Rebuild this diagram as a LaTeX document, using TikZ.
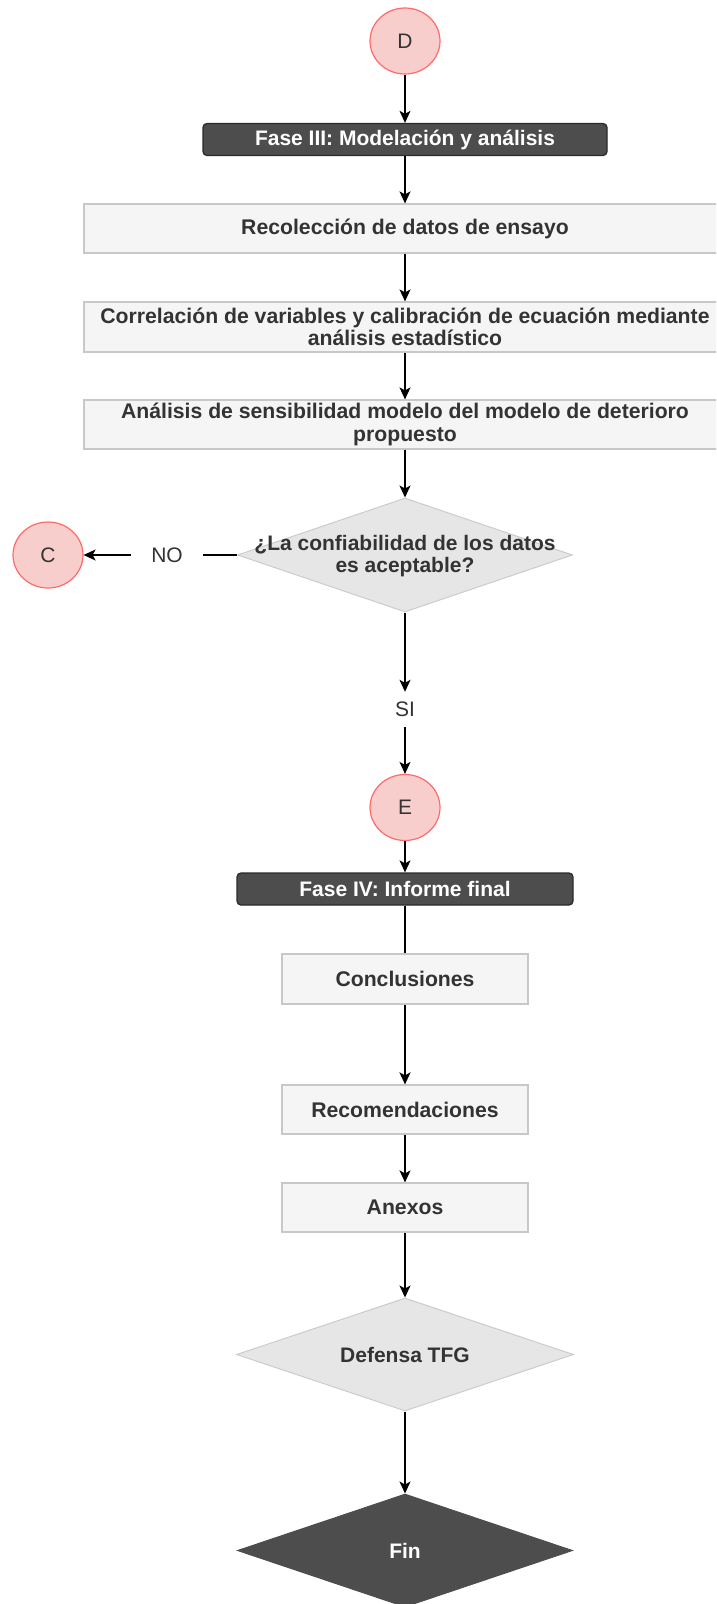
\documentclass[tikz,border=0pt]{standalone}
\usepackage{fontspec}
\setmainfont{Liberation Sans}
\usetikzlibrary{shapes.geometric,arrows.meta}
\definecolor{txt}{HTML}{333333}
\definecolor{boxfill}{HTML}{F5F5F5}
\definecolor{boxline}{HTML}{C8C8C8}
\definecolor{diafill}{HTML}{E6E6E6}
\definecolor{dialine}{HTML}{CCCCCC}
\definecolor{darkfill}{HTML}{4D4D4D}
\definecolor{darkline}{HTML}{2B2B2B}
\definecolor{connfill}{HTML}{F8CECC}
\definecolor{connline}{HTML}{FF6B6B}
\tikzset{
  box/.style={draw=boxline, fill=boxfill, line width=1.2pt, inner sep=0pt,
    minimum height=49pt, align=center, text=txt,
    font=\bfseries\fontsize{21.2}{22.5}\selectfont},
  phase/.style={draw=darkline, fill=darkfill, line width=1.3pt, rounded corners=4pt,
    inner sep=0pt, minimum height=32pt, text=white,
    font=\bfseries\fontsize{21}{22.5}\selectfont},
  conn/.style={ellipse, draw=connline, fill=connfill, line width=1.2pt,
    minimum width=70pt, minimum height=66pt, inner sep=0pt, text=txt,
    font=\fontsize{21}{24}\selectfont},
  dia/.style={diamond, draw=dialine, fill=diafill, line width=1pt,
    minimum width=335pt, minimum height=114pt, inner sep=0pt},
  diatext/.style={align=center, text=txt, inner sep=0pt,
    font=\bfseries\fontsize{21}{22.5}\selectfont},
  lbl/.style={text=txt, inner sep=0pt, font=\fontsize{21}{24}\selectfont},
  arr/.style={-{Stealth[length=12pt,width=11pt,inset=3pt]}, line width=1.3pt, draw=black},
  plain/.style={line width=1.3pt, draw=black}
}
\begin{document}
\begin{tikzpicture}[x=1pt,y=-1pt]
\useasboundingbox (0,0) rectangle (716,1604);
\clip (0,0) rectangle (716,1604);
% nodes
\node[conn] (D) at (405,41) {D};
\node[phase, minimum width=404pt] (f3) at (405,139.5) {Fase III: Modelación y análisis};
\node[box, minimum width=642pt] (rec) at (405,228.5) {Recolección de datos de ensayo};
\node[box, minimum width=642pt, minimum height=50pt] (cor) at (405,327) {Correlación de variables y calibración de ecuación mediante\\análisis estadístico};
\node[box, minimum width=642pt] (ana) at (405,424.5) {Análisis de sensibilidad modelo del modelo de deterioro\\propuesto};
\node[dia] (dec) at (405,555) {};
\node[diatext] (dect) at (405,556) {¿La confiabilidad de los datos\\es aceptable?};
\node[conn] (C) at (48,555) {C};
\node[lbl, minimum width=72pt] (no) at (167,555) {NO};
\node[lbl, minimum height=35pt] (si) at (405,709.5) {SI};
\node[conn] (E) at (405,807.5) {E};
\node[phase, minimum width=336pt] (f4) at (405,889) {Fase IV: Informe final};
\node[box, minimum width=246pt, minimum height=50pt] (concl) at (405,979) {Conclusiones};
\node[box, minimum width=246pt] (recom) at (405,1109.5) {Recomendaciones};
\node[box, minimum width=246pt] (anex) at (405,1207.5) {Anexos};
\node[dia, minimum width=337pt, minimum height=113pt] (def) at (405,1354.5) {};
\node[diatext] (deft) at (405,1354.5) {Defensa TFG};
\node[dia, draw=darkfill, fill=darkfill, minimum height=113pt] (fin) at (405,1550.5) {};
\node[diatext, text=white] (fint) at (405,1550.5) {Fin};
% connectors
\draw[arr] (D) -- (f3);
\draw[arr] (f3) -- (rec);
\draw[arr] (rec) -- (cor);
\draw[arr] (cor) -- (ana);
\draw[arr] (ana) -- (dec);
\draw[plain] (dec.west) -- (no.east);
\draw[arr] (no.west) -- (C);
\draw[arr] (dec.south) -- (si.north);
\draw[arr] (si.south) -- (E);
\draw[arr] (E) -- (f4);
\draw[plain] (f4) -- (concl);
\draw[arr, line width=2pt] (concl) -- (recom);
\draw[arr] (recom) -- (anex);
\draw[arr] (anex) -- (def.north);
\draw[arr] (def.south) -- (fin.north);
\end{tikzpicture}
\end{document}
